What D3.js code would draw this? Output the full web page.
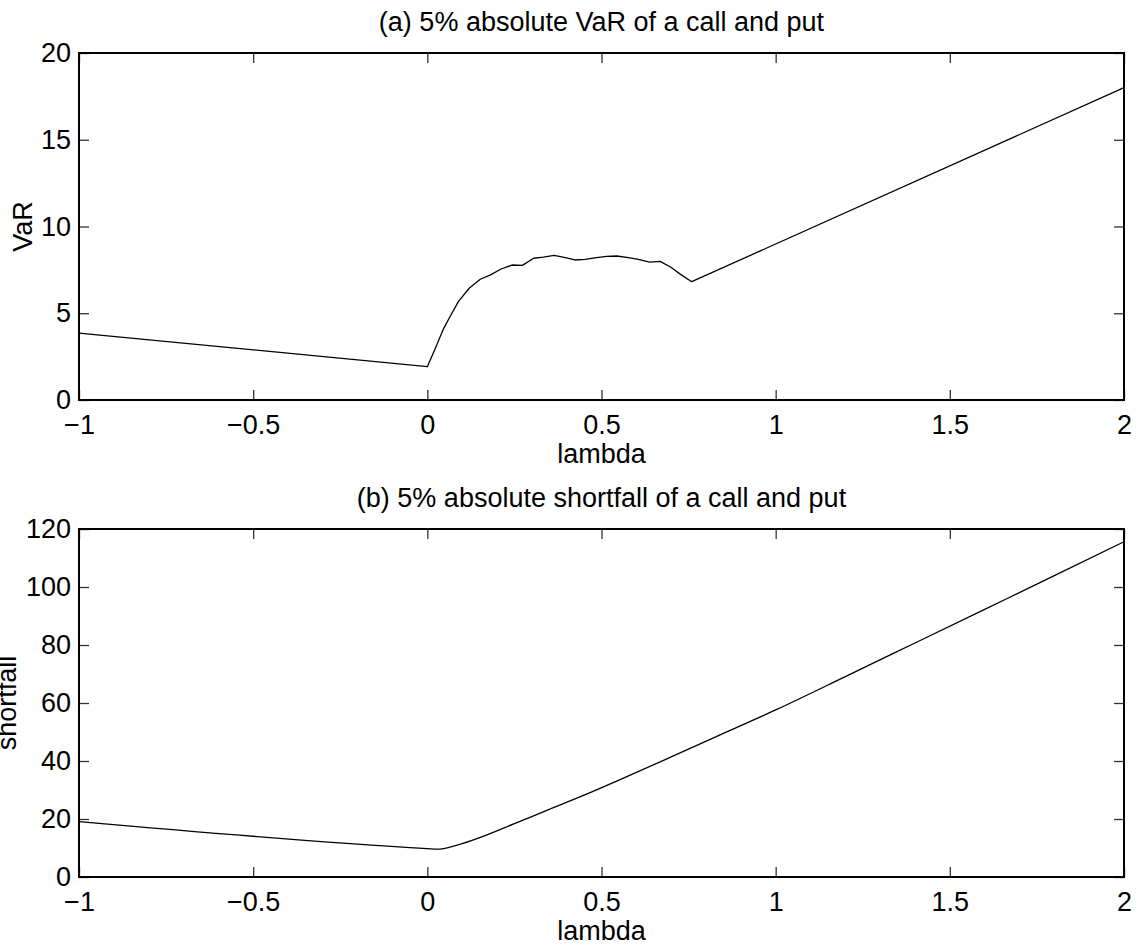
<!DOCTYPE html>
<html>
<head>
<meta charset="utf-8">
<script src="https://cdn.jsdelivr.net/npm/d3@7"></script>
<style>
  html, body { margin: 0; padding: 0; background: #fff; }
  svg { display: block; }
  text { font-family: "Liberation Sans", Arial, Helvetica, sans-serif; fill: #000; }
</style>
</head>
<body>
<svg id="chart" width="1137" height="949"></svg>
<script>
// ---- data ----
const lambdaVaR = [-1, 0, 0.023, 0.047, 0.065, 0.089, 0.12, 0.152, 0.18, 0.212, 0.243, 0.273, 0.305,
  0.333, 0.364, 0.396, 0.424, 0.453, 0.486, 0.515, 0.544, 0.577, 0.606, 0.638, 0.668, 0.697,
  0.727, 0.759, 2];
const varValues = [3.86, 1.92, 2.98, 4.13, 4.8, 5.67, 6.44, 6.96, 7.2, 7.55, 7.78, 7.76, 8.17,
  8.24, 8.34, 8.2, 8.07, 8.11, 8.2, 8.28, 8.3, 8.2, 8.11, 7.95, 7.99, 7.68,
  7.24, 6.82, 18.0];

const lambdaES = [-1, 0, 0.03, 0.065, 0.1, 0.16, 0.25, 0.35, 0.45, 0.55, 0.7, 0.85, 1.0, 1.2,
  1.4, 1.6, 1.8, 2.0];
const esValues = [19.1, 9.8, 9.6, 10.3, 11.5, 14.0, 18.4, 23.3, 28.2, 33.4, 41.4, 49.5, 57.6, 69.1,
  80.7, 92.3, 103.9, 115.6];

const xTicks = [-1, -0.5, 0, 0.5, 1, 1.5, 2];
const xTickLabels = ["\u22121", "\u22120.5", "0", "0.5", "1", "1.5", "2"];
const varTicks = [0, 5, 10, 15, 20];
const esTicks = [0, 20, 40, 60, 80, 100, 120];

const titles = ["(a) 5% absolute VaR of a call and put", "(b) 5% absolute shortfall of a call and put"];
const yLabels = ["VaR", "shortfall"];
const xLabel = "lambda";

// ---- layout ----
const svg = d3.select("#chart");
const left = 79, right = 1124;
const panels = [
  { top: 53, bottom: 400, xs: lambdaVaR, ys: varValues, yDomain: [0, 20], yTicks: varTicks,
    title: titles[0], ylab: yLabels[0], ylabX: 32, curve: d3.curveLinear },
  { top: 529, bottom: 877, xs: lambdaES, ys: esValues, yDomain: [0, 120], yTicks: esTicks,
    title: titles[1], ylab: yLabels[1], ylabX: 16, curve: d3.curveMonotoneX }
];
const FS = 27;

panels.forEach(p => {
  const x = d3.scaleLinear().domain([-1, 2]).range([left, right]);
  const y = d3.scaleLinear().domain(p.yDomain).range([p.bottom, p.top]);
  const g = svg.append("g");
  const fmtX = d => xTickLabels[xTicks.indexOf(d)];

  const bx = g.append("g").attr("transform", `translate(0,${p.bottom})`)
    .call(d3.axisBottom(x).tickValues(xTicks).tickFormat(fmtX).tickSizeInner(-10).tickSizeOuter(0).tickPadding(15));
  const tx = g.append("g").attr("transform", `translate(0,${p.top})`)
    .call(d3.axisTop(x).tickValues(xTicks).tickFormat("").tickSizeInner(-10).tickSizeOuter(0));
  const ly = g.append("g").attr("transform", `translate(${left},0)`)
    .call(d3.axisLeft(y).tickValues(p.yTicks).tickFormat(d3.format("d")).tickSizeInner(-10).tickSizeOuter(0).tickPadding(8));
  const ry = g.append("g").attr("transform", `translate(${right},0)`)
    .call(d3.axisRight(y).tickValues(p.yTicks).tickFormat("").tickSizeInner(-10).tickSizeOuter(0));

  [bx, tx, ly, ry].forEach(a => {
    a.select(".domain").remove();
    a.selectAll(".tick line").attr("stroke", "#333").attr("stroke-width", 1.3);
    a.selectAll(".tick text").attr("font-size", FS).attr("font-family", null).attr("fill", "#000");
  });

  g.append("rect").attr("x", left).attr("y", p.top)
    .attr("width", right - left).attr("height", p.bottom - p.top)
    .attr("fill", "none").attr("stroke", "#000").attr("stroke-width", 2);

  const line = d3.line().curve(p.curve).x(d => x(d[0])).y(d => y(d[1]));
  g.append("path").datum(p.xs.map((v, i) => [v, p.ys[i]]))
    .attr("d", line).attr("fill", "none").attr("stroke", "#000").attr("stroke-width", 1.3)
    .attr("stroke-linejoin", "round");

  g.append("text").attr("x", (left + right) / 2).attr("y", p.top - 22)
    .attr("text-anchor", "middle").attr("font-size", FS).text(p.title);
  g.append("text").attr("x", (left + right) / 2).attr("y", p.bottom + 63)
    .attr("text-anchor", "middle").attr("font-size", FS).text(xLabel);
  g.append("text").attr("transform", `translate(${p.ylabX},${(p.top + p.bottom) / 2}) rotate(-90)`)
    .attr("text-anchor", "middle").attr("font-size", FS).text(p.ylab);
});
</script>
</body>
</html>
